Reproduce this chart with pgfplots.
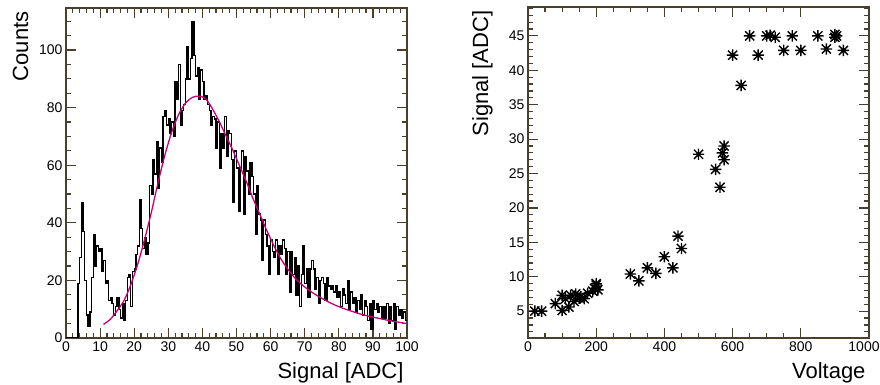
\documentclass[border=0pt]{standalone}
\usepackage{fontspec}
\setmainfont{Liberation Sans}
\usepackage{pgfplots}
\pgfplotsset{compat=1.18}
\definecolor{framecol}{RGB}{72,64,44}
\definecolor{fitcol}{RGB}{200,0,120}
\pgfdeclareplotmark{rootstar}{%
  \pgfpathmoveto{\pgfqpoint{-\pgfplotmarksize}{0pt}}%
  \pgfpathlineto{\pgfqpoint{\pgfplotmarksize}{0pt}}%
  \pgfpathmoveto{\pgfqpoint{0pt}{-\pgfplotmarksize}}%
  \pgfpathlineto{\pgfqpoint{0pt}{\pgfplotmarksize}}%
  \pgfpathmoveto{\pgfqpoint{-.8\pgfplotmarksize}{-.8\pgfplotmarksize}}%
  \pgfpathlineto{\pgfqpoint{.8\pgfplotmarksize}{.8\pgfplotmarksize}}%
  \pgfpathmoveto{\pgfqpoint{-.8\pgfplotmarksize}{.8\pgfplotmarksize}}%
  \pgfpathlineto{\pgfqpoint{.8\pgfplotmarksize}{-.8\pgfplotmarksize}}%
  \pgfusepathqstroke}
\pgfplotsset{rootstyle/.style={
  scale only axis,
  axis line style={framecol, line width=1.2pt},
  tick style={framecol, line width=1.2pt},
  minor tick style={framecol, line width=1.2pt},
  major tick length=10pt, minor tick length=5pt,
  tick align=inside,
  ticklabel style={font=\fontsize{14}{14}\selectfont},
  /pgf/number format/assume math mode=true,
  /pgf/number format/1000 sep={},
  label style={font=\fontsize{22}{22}\selectfont},
}}
\pgfplotstableread{
x y
0 0
3.0 0
3.5 19
4.0 28
4.5 47
5.0 37
5.5 20
6.0 8
6.5 4
7.0 9
7.5 21
8.0 36
8.5 25
9.0 32
9.5 30
10.0 31
10.5 23
11.0 27
11.5 19
12.0 20
12.5 13
13.0 14
13.5 12
14.0 8
14.5 11
15.0 14
15.5 10
16.0 7
16.5 12
17.0 6
17.5 13
18.0 21
18.5 22
19.0 11
19.5 23
20.0 24
20.5 29
21.0 32
21.5 48
22.0 38
22.5 31
23.0 35
23.5 29
24.0 33
24.5 53
25.0 50
25.5 62
26.0 57
26.5 68
27.0 52
27.5 66
28.0 61
28.5 77
29.0 79
29.5 74
30.0 76
30.5 71
31.0 75
31.5 70
32.0 89
32.5 83
33.0 95
33.5 74
34.0 79
34.5 81
35.0 90
35.5 101
36.0 90
36.5 97
37.0 110
37.5 98
38.0 91
38.5 94
39.0 83
39.5 93
40.0 89
40.5 83
41.0 84
41.5 81
42.0 79
42.5 74
43.0 77
43.5 76
44.0 66
44.5 75
45.0 59
45.5 71
46.0 66
46.5 77
47.0 63
47.5 72
48.0 71
48.5 62
49.0 47
49.5 65
50.0 59
50.5 44
51.0 59
51.5 65
52.0 43
52.5 63
53.0 58
53.5 50
54.0 61
54.5 56
55.0 50
55.5 36
56.0 53
56.5 43
57.0 41
57.5 27
58.0 41
58.5 36
59.0 32
59.5 22
60.0 34
60.5 30
61.0 28
61.5 34
62.0 22
62.5 32
63.0 29
63.5 34
64.0 31
64.5 22
65.0 30
65.5 16
66.0 30
66.5 22
67.0 28
67.5 15
68.0 25
68.5 11
69.0 22
69.5 32
70.0 19
70.5 24
71.0 14
71.5 24
72.0 27
72.5 24
73.0 17
73.5 21
74.0 12
74.5 20
75.0 21
75.5 19
76.0 13
76.5 21
77.0 18
77.5 17
78.0 18
78.5 16
79.0 18
79.5 14
80.0 16
80.5 11
81.0 17
81.5 15
82.0 12
82.5 20
83.0 10
83.5 16
84.0 12
84.5 14
85.0 9
85.5 13
86.0 10
86.5 15
87.0 8
87.5 13
88.0 11
88.5 6
89.0 12
89.5 3
90.0 13
90.5 10
91.0 12
91.5 9
92.0 11
92.5 7
93.0 11
93.5 7
94.0 12
94.5 5
95.0 11
95.5 6
96.0 12
96.5 3
97.0 11
97.5 8
98.0 10
98.5 7
99.0 9
99.5 6
100 6
}\histdata
\pgfplotstableread{
x y
11 4.7
13 6.5
15 9.5
17 13
19 18.5
21 25.5
23 34
25 43.5
27 54
29 63.5
31 71.5
33 77.5
35 81.5
37 83.5
39 84
41 83
43 79.5
45 75
47 70
49 65
51 59.5
53 54
55 48
57 42.5
59 37
61 32
63 27.5
65 24
67 21
69 18.7
71 16.8
73 15.2
75 13.8
77 12.5
79 11.4
81 10.4
83 9.6
85 8.8
87 8.1
89 7.5
91 7
93 6.5
95 6
97 5.6
99 5.2
100 5
}\fitdata
\pgfplotstableread{
x y
20 5.0
40 5.0
80 6.1
100 7.3
100 5.1
110 6.8
120 5.6
125 7.3
135 6.4
140 7.5
150 6.9
155 7.1
165 6.8
175 7.6
190 7.9
195 8.3
200 8.8
200 9.0
205 8.1
300 10.4
325 9.4
350 11.3
375 10.5
400 12.9
425 11.3
440 15.9
450 14.1
500 27.8
550 25.6
563 23.0
575 27.0
575 29.0
570 28.0
600 42.2
625 37.8
650 45.0
675 42.2
700 45.0
710 45.1
725 44.8
750 42.9
775 45.0
800 42.9
850 45.0
875 43.1
900 45.2
900 44.8
905 45.0
925 42.9
}\scatdata
\begin{document}
\begin{tikzpicture}[x=1pt,y=1pt]
\useasboundingbox (0,0) rectangle (880,385);
\begin{axis}[rootstyle,
  at={(66pt,47pt)}, anchor=south west,
  width=341pt, height=330pt,
  xmin=0, xmax=100, ymin=0, ymax=114.6,
  xtick distance=10, ytick distance=20,
  minor x tick num=4, minor y tick num=3,
  xlabel={Signal [ADC]}, ylabel={Counts},
  xlabel style={at={(axis description cs:1,0)}, anchor=base east, yshift=-41pt},
  ylabel style={at={(axis description cs:-0.1114,1)}, anchor=base east},
]
\addplot[const plot, black, line width=1.4pt] table[x=x,y=y] {\histdata};
\addplot[fitcol, line width=1.3pt, smooth] table[x=x,y=y] {\fitdata};
\end{axis}
\begin{axis}[rootstyle,
  at={(528pt,47pt)}, anchor=south west,
  width=341pt, height=331pt,
  xmin=0, xmax=1000, ymin=1.1, ymax=49.2,
  xtick={0,200,400,600,800}, ytick distance=5,
  extra x ticks={1000},
  extra x tick style={xticklabel style={xshift=-5pt}},
  minor x tick num=3, minor y tick num=4,
  xlabel={Voltage}, ylabel={Signal [ADC]},
  xlabel style={at={(axis description cs:1,0)}, anchor=base east, yshift=-41pt},
  ylabel style={at={(axis description cs:-0.1173,1)}, anchor=base east},
]
\addplot[only marks, black, mark=rootstar, mark size=5.7pt, mark options={line width=1.4pt}] table[x=x,y=y] {\scatdata};
\end{axis}
\end{tikzpicture}
\end{document}
